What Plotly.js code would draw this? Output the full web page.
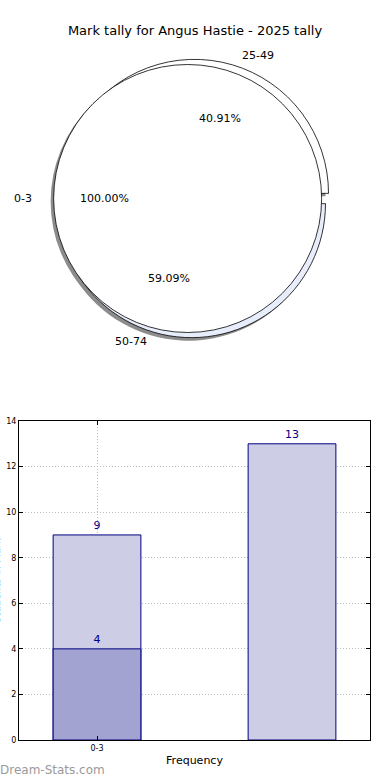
<!DOCTYPE html>
<html>
<head>
<meta charset="utf-8">
<script src="https://cdn.plot.ly/plotly-3.0.1.min.js"></script>
<style>html,body{margin:0;padding:0;background:#fff;}#chart{width:390px;height:780px;}</style>
</head>
<body>
<div id="chart"></div>
<script>
// ---- data ----
const chartTitle = 'Mark tally for Angus Hastie - 2025 tally';
const innerPieLabels = ['0-3'];
const innerPieValues = [4];
const outerPieLabels = ['25-49', '50-74'];
const outerPieValues = [9, 13];
const barCategories = ['0-3', ''];
const barTotals = [9, 13];
const barInner = [4, null];
const xTitle = 'Frequency';
const yTitle = 'Students in Mark';
const watermark = 'Dream-Stats.com';

// ---- layout geometry ----
const W = 390, H = 780;
const M = {l: 19, r: 20, t: 10, b: 40};
const PW = W - M.l - M.r, PH = H - M.t - M.b;
const toPX = px => (px - M.l) / PW;
const toPY = py => (H - M.b - py) / PH;
const pull = 0.04;
const pieC = {x: 193, y: 198.5};
const pieR = 134;
const half = pieR * (1 + pull);
const textEllipse = {rx: 141, ry: 130};
const FONT = 'DejaVu Sans, sans-serif';

function domainFor(dx, dy) {
  return {
    x: [toPX(pieC.x - half + dx), toPX(pieC.x + half + dx)],
    y: [toPY(pieC.y + half + dy), toPY(pieC.y - half + dy)]
  };
}

// matplotlib-like start: first slice begins at 3 o'clock, slices run counterclockwise.
// In Plotly the first slice occupies [rotation, rotation + its angle] measured clockwise from 12.
function startRotation(values) {
  const total = values.reduce((a, b) => a + b, 0);
  return 90 - 360 * values[0] / total;
}

const pieBase = {
  type: 'pie', sort: false, direction: 'counterclockwise',
  textinfo: 'none', hoverinfo: 'none', showlegend: false
};
const outerRot = startRotation(outerPieValues);
const innerRot = startRotation(innerPieValues);

const traces = [
  Object.assign({}, pieBase, {labels: outerPieLabels, values: outerPieValues, rotation: outerRot,
    pull: outerPieValues.map(() => pull), domain: domainFor(-3, 3),
    marker: {colors: ['#8c8c8c', '#8c8c8c'], line: {width: 0}}}),
  Object.assign({}, pieBase, {labels: innerPieLabels, values: innerPieValues, rotation: innerRot,
    pull: innerPieValues.map(() => pull), domain: domainFor(-3, 3),
    marker: {colors: ['#8c8c8c'], line: {width: 0}}}),
  Object.assign({}, pieBase, {labels: outerPieLabels, values: outerPieValues, rotation: outerRot,
    pull: outerPieValues.map(() => pull), domain: domainFor(0, 0),
    marker: {colors: ['#ffffff', '#e8edfb'], line: {color: '#000', width: 0.8}}}),
  Object.assign({}, pieBase, {labels: innerPieLabels, values: innerPieValues, rotation: innerRot,
    pull: innerPieValues.map(() => pull), domain: domainFor(0, 0),
    marker: {colors: ['#ffffff'], line: {color: '#000', width: 0.8}}}),
  {type: 'bar', x: barCategories.map((c, i) => i), y: barTotals, width: 0.45,
   text: barTotals.map(String), textposition: 'outside', cliponaxis: false,
   textfont: {color: '#00008b', size: 11, family: FONT},
   marker: {color: '#cdcde6', line: {color: '#000080', width: 1}},
   hoverinfo: 'none', showlegend: false},
  {type: 'bar', x: barCategories.map((c, i) => i), y: barInner, width: 0.45,
   text: barInner.map(v => v == null ? '' : String(v)), textposition: 'outside', cliponaxis: false,
   textfont: {color: '#00008b', size: 11, family: FONT},
   marker: {color: '#a3a3d1', line: {color: '#000080', width: 1}},
   hoverinfo: 'none', showlegend: false}
];

// pie texts, matplotlib style (labels outside the rim, percents at 0.6 r)
const annotations = [];
function pieTexts(labels, values) {
  const total = values.reduce((a, b) => a + b, 0);
  let start = 0;
  values.forEach((v, i) => {
    const frac = v / total;
    const mid = (start + frac / 2) * 2 * Math.PI;
    start += frac;
    const c = Math.cos(mid), s = Math.sin(mid);
    const ox = 194.5 + pull * textEllipse.rx * c, oy = pieC.y - pull * textEllipse.ry * s;
    annotations.push({xref: 'paper', yref: 'paper', showarrow: false,
      x: toPX(ox + 1.1 * textEllipse.rx * c), y: toPY(oy - 1.07 * pieR * s),
      xanchor: c > 0 ? 'left' : 'right', yanchor: 'middle',
      text: labels[i], font: {size: 11, family: FONT, color: '#000'}});
    annotations.push({xref: 'paper', yref: 'paper', showarrow: false,
      x: toPX(ox + 0.6 * textEllipse.rx * c), y: toPY(oy - 0.6 * textEllipse.ry * s),
      xanchor: 'center', yanchor: 'middle',
      text: (frac * 100).toFixed(2) + '%', font: {size: 11, family: FONT, color: '#000'}});
  });
}
pieTexts(innerPieLabels, innerPieValues);
pieTexts(outerPieLabels, outerPieValues);

annotations.push({xref: 'paper', yref: 'paper', showarrow: false, textangle: -90,
  x: toPX(4), y: 0.2185, xanchor: 'right', yanchor: 'middle',
  text: yTitle, font: {size: 10, family: FONT, color: '#000'}});
annotations.push({xref: 'paper', yref: 'paper', showarrow: false,
  x: toPX(-2), y: toPY(770), xanchor: 'left', yanchor: 'middle',
  text: watermark, font: {size: 12, family: 'DejaVu Sans, sans-serif', color: '#9a9a9a'}});

const tickIdx = barCategories.map((c, i) => i).filter(i => barCategories[i] !== '');

const gridStyle = {showgrid: true, gridcolor: '#bdbdbd', griddash: '1px,2px', gridwidth: 1};

const layout = {
  width: W, height: H, margin: M, paper_bgcolor: '#fff', plot_bgcolor: '#fff',
  font: {family: FONT, color: '#000'},
  title: {text: chartTitle, x: 0.5, xanchor: 'center', y: 1 - 30 / H, yanchor: 'middle',
          font: {size: 13, family: FONT, color: '#000'}},
  barmode: 'overlay', bargap: 0,
  xaxis: Object.assign({range: [-0.4, 1.4], tickvals: tickIdx, ticktext: tickIdx.map(i => barCategories[i]),
    showline: true, linecolor: '#000', linewidth: 1, mirror: 'ticks',
    ticks: 'inside', ticklen: 4, tickcolor: '#000', zeroline: false,
    tickfont: {size: 8, family: FONT},
    title: {text: xTitle, standoff: 4, font: {size: 11, family: FONT}}, automargin: false}, gridStyle),
  yaxis: Object.assign({domain: [0, toPY(421)], range: [0, 14], dtick: 2,
    showline: true, linecolor: '#000', linewidth: 1, mirror: 'ticks',
    ticks: 'inside', ticklen: 4, tickcolor: '#000', zeroline: false,
    tickfont: {size: 8, family: FONT}, automargin: false}, gridStyle),
  annotations: annotations
};

Plotly.newPlot('chart', traces, layout, {staticPlot: true, displayModeBar: false});
</script>
</body>
</html>
